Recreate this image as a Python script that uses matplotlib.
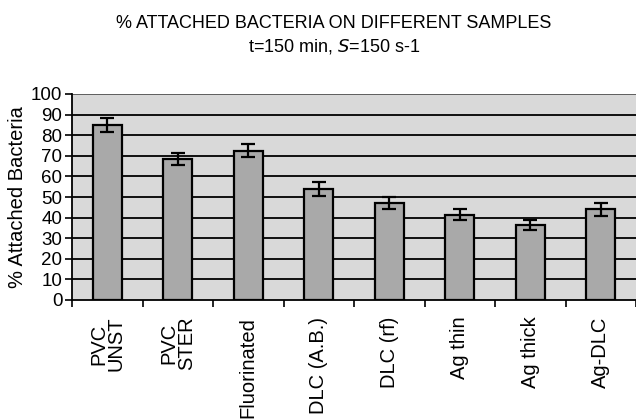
import numpy as np
import matplotlib
matplotlib.use("Agg")
import matplotlib.pyplot as plt

samples = ["PVC\nUNST", "PVC\nSTER", "Fluorinated", "DLC (A.B.)", "DLC (rf)",
           "Ag thin", "Ag thick", "Ag-DLC"]
attached = [85, 68.5, 72.5, 54, 47, 41.5, 36.5, 44]
errors = [3.5, 3.0, 3.0, 3.5, 2.8, 2.5, 2.5, 3.2]
yticks = list(range(0, 101, 10))

plt.rcParams['font.family'] = ['Liberation Sans', 'DejaVu Sans']

fig = plt.figure(figsize=(6.36, 4.2), dpi=100)
ax = fig.add_axes([72 / 636, 120 / 420, 564 / 636, 206 / 420])
ax.set_facecolor('#d9d9d9')

x = np.arange(len(samples))
ax.bar(x, attached, width=0.41, color='#a9a9a9', edgecolor='black', linewidth=1.6, zorder=3)
ax.errorbar(x, attached, yerr=errors, fmt='none', ecolor='black', elinewidth=1.6,
            capsize=5, capthick=1.6, zorder=4)

ax.set_ylim(0, 100)
ax.set_xlim(-0.5, len(samples) - 0.5)
ax.set_yticks(yticks)
ax.set_yticklabels([str(v) for v in yticks], fontsize=13.5)
for v in yticks[1:]:
    ax.axhline(v, color='black' if v < 100 else '#555555', linewidth=1.3, zorder=2)

ax.set_xticks(x)
ax.set_xticklabels(samples, rotation=90, fontsize=14.5, va='top', ha='center', linespacing=0.9)
ax.tick_params(axis='x', length=0, pad=12)
ax.set_xticks(np.arange(-0.5, len(samples), 1.0), minor=True)
ax.tick_params(axis='x', which='minor', length=5, width=1.2, direction='out')
ax.tick_params(axis='y', length=5, width=1.2, pad=2)

for side in ['top', 'right']:
    ax.spines[side].set_visible(False)
ax.spines['left'].set_linewidth(1.3)
ax.spines['bottom'].set_linewidth(1.3)

ax.set_ylabel("% Attached Bacteria", fontsize=14.5, labelpad=3)

fig.text(0.525, 0.945, "% ATTACHED BACTERIA ON DIFFERENT SAMPLES", ha='center', va='center',
         fontsize=13)
fig.text(0.525, 0.89, "t=150 min, $\\it{S}$=150 s-1", ha='center', va='center', fontsize=13)

fig.savefig("out.png", dpi=100)
